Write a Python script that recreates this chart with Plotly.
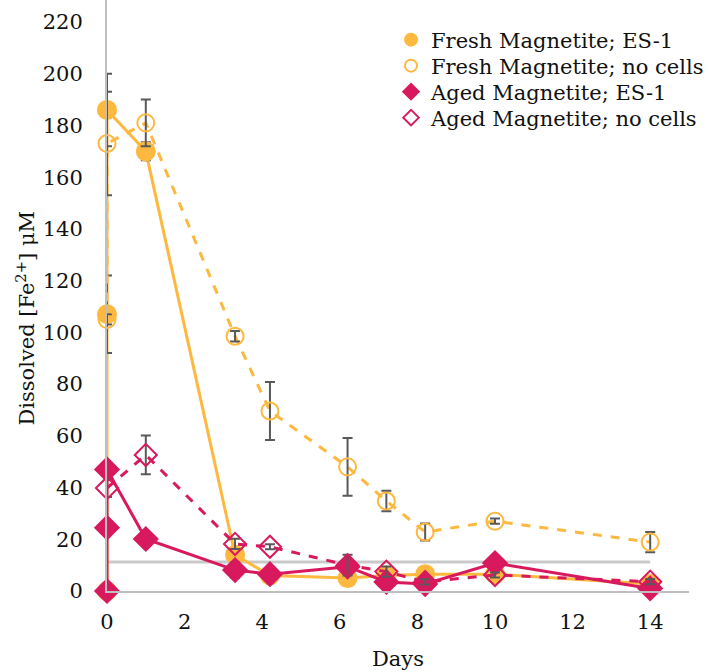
import plotly.graph_objects as go

# ---- data ----
fresh_es1_days = [0, 0, 0, 1, 3.3, 4.2, 6.2, 7.2, 8.2, 10, 14]
fresh_es1_fe = [0, 107, 186, 170, 14, 6, 5, 6, 6.5, 6.5, 2.7]
fresh_es1_err = [0, 15, 14, 3.5, 2, 1, 1, 1, 1.5, 1, 0.5]

fresh_nc_days = [0, 0, 1, 3.3, 4.2, 6.2, 7.2, 8.2, 10, 14]
fresh_nc_fe = [105, 173, 181, 98.5, 69.6, 48, 34.8, 22.8, 27, 18.9]
fresh_nc_err = [2, 20, 9, 2, 11.2, 11.2, 4, 3.3, 1, 3.9]

aged_es1_days = [0, 0, 0, 1, 3.3, 4.2, 6.2, 7.2, 8.2, 10, 14]
aged_es1_fe = [0, 24.5, 47, 20.1, 8.1, 6.5, 9.4, 3.5, 2.7, 10.8, 1]
aged_es1_err = [0, 1.5, 1.5, 1.5, 3, 1, 1.5, 1, 1, 1, 0.5]

aged_nc_days = [0, 1, 3.3, 4.2, 6.2, 7.2, 8.2, 10, 14]
aged_nc_fe = [39.8, 52.6, 18.2, 17.1, 10, 7.5, 3.5, 6.2, 3.6]
aged_nc_err = [3.5, 7.5, 2, 1, 4, 2, 1, 1, 1]

limit_days = [0, 14]
limit_fe = [11.2, 11.2]

x_ticks = [0, 2, 4, 6, 8, 10, 12, 14]
y_ticks = [0, 20, 40, 60, 80, 100, 120, 140, 160, 180, 200, 220]

ORANGE = "#FDB83F"
CRIMSON = "#D8195D"
ERR = "#595959"
FONT = "DejaVu Serif"
FS = 21

fig = go.Figure()

fig.add_trace(go.Scatter(x=limit_days, y=limit_fe, mode="lines",
                         line=dict(color="#C9C9C9", width=3),
                         showlegend=False, hoverinfo="skip"))

def err(a):
    return dict(type="data", array=a, visible=True, color=ERR, thickness=2, width=5)

series = [
    ("Fresh Magnetite; ES-1", fresh_es1_days, fresh_es1_fe, fresh_es1_err,
     ORANGE, "solid", "circle", 18, "legend"),
    ("Fresh Magnetite; no cells", fresh_nc_days, fresh_nc_fe, fresh_nc_err,
     ORANGE, "dash", "circle-open", 17, "legend2"),
    ("Aged Magnetite; ES-1", aged_es1_days, aged_es1_fe, aged_es1_err,
     CRIMSON, "solid", "diamond", 18, "legend3"),
    ("Aged Magnetite; no cells", aged_nc_days, aged_nc_fe, aged_nc_err,
     CRIMSON, "dash", "diamond-open", 17, "legend4"),
]

for name, xs, ys, es, col, dash, sym, size, leg in series:
    fig.add_trace(go.Scatter(
        x=xs, y=ys, mode="lines", line=dict(color=col, width=3, dash=dash),
        showlegend=False, hoverinfo="skip", cliponaxis=False))
    fig.add_trace(go.Scatter(
        x=xs, y=ys, name=name, mode="markers",
        marker=dict(symbol=sym, size=size, color=col, line=dict(width=2, color=col)),
        error_y=err(es), cliponaxis=False, legend=leg))

L, R, T, B = 107, 16, 0, 81
W, H = 709, 672
pw, ph = W - L - R, H - T - B

def py2paper(py):
    return (H - B - py) / ph

leg_x = (393 - L) / pw
legend_common = dict(x=leg_x, xanchor="left", yanchor="middle",
                     bgcolor="rgba(0,0,0,0)", font=dict(family=FONT, size=FS, color="#111"),
                     itemsizing="constant")
legends = {}
for i, yc in enumerate([40, 66, 92, 118]):
    key = "legend" if i == 0 else f"legend{i+1}"
    legends[key] = dict(legend_common, y=py2paper(yc))

fig.update_layout(
    width=W, height=H,
    margin=dict(l=L, r=R, t=T, b=B),
    plot_bgcolor="white", paper_bgcolor="white",
    font=dict(family=FONT, size=FS, color="#111"),
    xaxis=dict(range=[0, 15], tickvals=x_ticks, showgrid=False, zeroline=False,
               showline=True, linecolor="#BFBFBF", linewidth=2, ticks="",
               ticklabelstandoff=11, tickfont=dict(family=FONT, size=FS),
               title=dict(text="Days", standoff=18, font=dict(family=FONT, size=FS))),
    yaxis=dict(range=[0, (H - B) / ((H - B - 22) / 220)], tickvals=y_ticks, showgrid=False,
               zeroline=False, showline=True, linecolor="#BFBFBF", linewidth=2, ticks="",
               ticklabelstandoff=18, tickfont=dict(family=FONT, size=FS)),
    annotations=[dict(text="Dissolved [Fe<sup>2+</sup>] μM", textangle=-90,
                      xref="paper", yref="paper", x=(25 - L) / pw, y=py2paper(318),
                      xanchor="center", yanchor="middle", showarrow=False,
                      font=dict(family=FONT, size=FS, color="#111"))],
    **legends,
)

fig.write_html("out.html")
